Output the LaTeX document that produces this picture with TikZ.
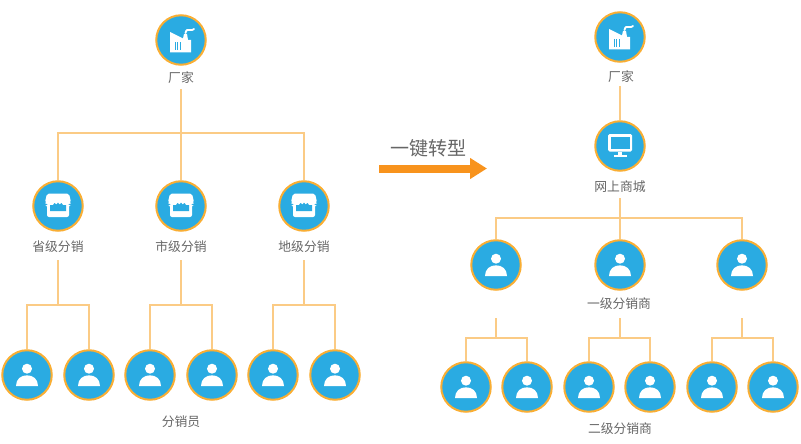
\documentclass[tikz,border=0pt]{standalone}
\usepackage{fontspec}
\setmainfont{Noto Sans CJK SC}
\usetikzlibrary{arrows.meta}
\definecolor{cblue}{HTML}{2AABE2}
\definecolor{cring}{HTML}{F9AE34}
\definecolor{cline}{HTML}{FBCB85}
\definecolor{carrow}{HTML}{F8931D}
\definecolor{ctext}{HTML}{666666}
\tikzset{
  disc/.style={circle,draw=cring,line width=2pt,fill=cblue,minimum size=49.5pt,inner sep=0pt},
  lab/.style={text=ctext,font=\fontsize{12.8}{14}\selectfont,inner sep=0pt},
  link/.style={draw=cline,line width=1.3pt},
  person/.pic={
    \fill[white] (0,-6.3) circle (5);
    \fill[white] (-11,11) .. controls (-11,4) and (-6,0.3) .. (0,0.3) .. controls (6,0.3) and (11,4) .. (11,11) -- cycle;
  },
  shop/.pic={
    \fill[white,rounded corners=2pt] (-11,-12.5) -- (11,-12.5) -- (13,-4) -- (12,-1) -- (11,-1) -- (11,11) -- (-11,11) -- (-11,-1) -- (-12,-1) -- (-13,-4) -- cycle;
    \fill[cblue] (-8,5) -- (-8,-1) -- (-5,-1) -- (-3.5,-3) -- (-1.5,-1.5) -- (0,-3.5) -- (1.5,-1.5) -- (3.5,-3) -- (5,-1) -- (8,-1) -- (8,5) -- cycle;
  },
  factory/.pic={
    \fill[white] (-11,-8) -- (2,-1.5) -- (3,-6) -- (6,-6) -- (7,0) -- (10,0) -- (10,12.5) -- (-11,12.5) -- cycle;
    \fill[cblue] (-6.5,2.5) rectangle (-5.1,10);
    \fill[cblue] (-4,2.5) rectangle (-2.6,10);
    \fill[cblue] (-1.5,2.5) rectangle (-0.1,10);
    \draw[white,line width=1.8pt,line cap=round] (4.5,-7) .. controls (5,-10) and (7,-11) .. (9,-10) .. controls (10.5,-9.5) and (11.5,-10) .. (13,-11);
  },
  monitor/.pic={
    \fill[white,rounded corners=1.5pt] (-12,-12) rectangle (12,5.5);
    \fill[cblue] (-9.5,-9.5) rectangle (9.5,3);
    \fill[white] (-2,5.5) rectangle (2,9);
    \fill[white] (-6.5,8.5) rectangle (6.5,10.5);
  }
}
\begin{document}
\begin{tikzpicture}[x=1pt,y=-1pt]
\useasboundingbox (0,0) rectangle (801,444);
% left tree
\node[disc] (lf) at (181,40) {}; \pic at (lf) {factory};
\node[lab] (lfl) at (181,78) {厂家};
\foreach \n/\x/\t in {p1/58/省级分销,p2/181/市级分销,p3/304/地级分销}{
  \node[disc] (\n) at (\x,206) {}; \pic at (\n) {shop};
  \node[lab] (\n l) at (\x,247) {\t};
}
\foreach \n/\x in {a1/27,a2/89,a3/150,a4/212,a5/273,a6/335}{
  \node[disc] (\n) at (\x,375) {}; \pic at (\n) {person};
}
\node[lab] (lb) at (181,422) {分销员};
% right tree
\node[disc] (rf) at (620,37) {}; \pic at (rf) {factory};
\node[lab] (rfl) at (621,77) {厂家};
\node[disc] (rm) at (620,146) {}; \pic at (rm) {monitor};
\node[lab] (rml) at (620,187) {网上商城};
\foreach \n/\x in {q1/496,q2/620,q3/742}{
  \node[disc] (\n) at (\x,265) {}; \pic at (\n) {person};
}
\node[lab] (ql) at (619,304) {一级分销商};
\foreach \n/\x in {b1/466,b2/527,b3/589,b4/650,b5/712,b6/773}{
  \node[disc] (\n) at (\x,387) {}; \pic at (\n) {person};
}
\node[lab] (rb) at (620,429) {二级分销商};
% junctions
\coordinate (s1) at (58,260); \coordinate (s2) at (181,260); \coordinate (s3) at (304,260);
\coordinate (j0) at (181,133);
\coordinate (j1) at (58,305); \coordinate (j2) at (181,305); \coordinate (j3) at (304,305);
\coordinate (r0) at (620,218);
\coordinate (t1) at (496,318); \coordinate (t2) at (620,318); \coordinate (t3) at (742,318);
\coordinate (k1) at (496,338); \coordinate (k2) at (620,338); \coordinate (k3) at (742,338);
% connectors
\draw[link] (lfl.south) ++(0,5) -- (p2.north);
\draw[link] (p1.north) |- (j0) -| (p3.north);
\foreach \s/\j/\u/\v in {s1/j1/a1/a2,s2/j2/a3/a4,s3/j3/a5/a6}{
  \draw[link] (\s) -- (\j);
  \draw[link] (\u.north) |- (\j) -| (\v.north);
}
\draw[link] (rfl.south) ++(-1,3) -- (rm.north);
\draw[link] (rml.south) ++(0,5) -- (q2.north);
\draw[link] (q1.north) |- (r0) -| (q3.north);
\foreach \s/\j/\u/\v in {t1/k1/b1/b2,t2/k2/b3/b4,t3/k3/b5/b6}{
  \draw[link] (\s) -- (\j);
  \draw[link] (\u.north) |- (\j) -| (\v.north);
}
% transform arrow
\node[text=ctext,font=\fontsize{19}{21}\selectfont,inner sep=0pt] (title) at (428,148) {一键转型};
\coordinate (ar1) at (379,168.5); \coordinate (ar2) at (487,168.5);
\draw[carrow,line width=8pt,-{Triangle[length=17pt,width=20pt]}] (ar1) -- (ar2);
\end{tikzpicture}
\end{document}
